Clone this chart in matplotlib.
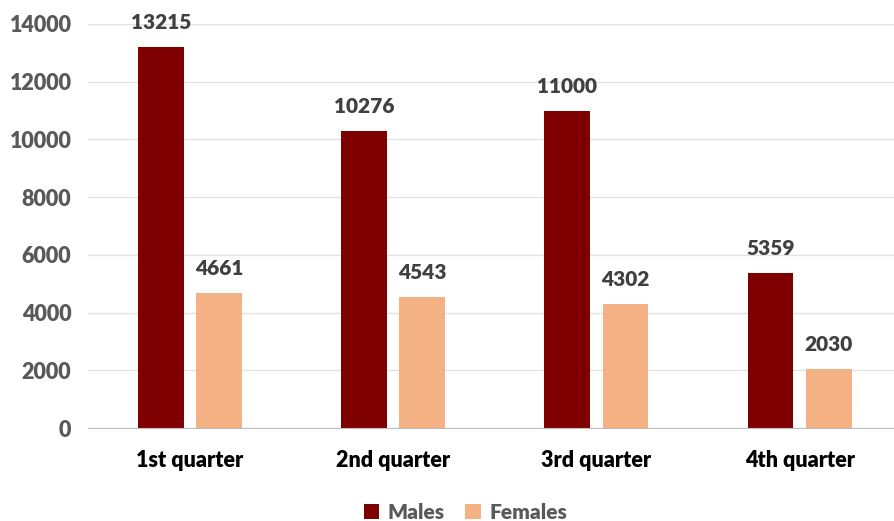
import numpy as np
import matplotlib.pyplot as plt

categories = ["1st quarter", "2nd quarter", "3rd quarter", "4th quarter"]
males = [13215, 10276, 11000, 5359]
females = [4661, 4543, 4302, 2030]

plt.rcParams['font.family'] = ['Lato', 'DejaVu Sans']
val_col = "#404040"
axis_col = "#595959"

fig = plt.figure(figsize=(8.95, 5.21), dpi=100)
ax = fig.add_axes([0.0985, 0.1785, 0.9085, 0.7755])

x = np.arange(len(categories))
w = 0.225
b1 = ax.bar(x - 0.143, males, w, color="#7F0000", label="Males", zorder=3)
b2 = ax.bar(x + 0.143, females, w, color="#F4B183", label="Females", zorder=3)

for bars in (b1, b2):
    for b in bars:
        ax.text(b.get_x() + b.get_width() / 2, b.get_height() + 520, str(int(b.get_height())),
                ha="center", va="bottom", fontsize=15, fontweight="heavy", color=val_col)

ax.set_xlim(-0.5, 3.5)
ax.set_ylim(0, 14000)
ax.set_yticks(np.arange(0, 14001, 2000))
ax.set_xticks(x)
ax.set_xticklabels(categories)
ax.grid(axis="y", color="#E3E3E3", linewidth=1, zorder=0)
ax.set_axisbelow(True)
for lab in ax.get_xticklabels():
    lab.set_fontsize(15.5)
    lab.set_fontweight("heavy")
    lab.set_color("#000000")
for lab in ax.get_yticklabels():
    lab.set_fontsize(15.5)
    lab.set_fontweight("heavy")
    lab.set_color(axis_col)
ax.tick_params(axis="both", length=0)
ax.tick_params(axis="x", pad=16)
ax.tick_params(axis="y", pad=12)
for s in ["top", "right", "left"]:
    ax.spines[s].set_visible(False)
ax.spines["bottom"].set_color("#BFBFBF")
ax.spines["bottom"].set_zorder(4)

leg = fig.legend(loc="lower center", ncol=2, frameon=False, bbox_to_anchor=(0.52, -0.038),
                 handlelength=0.75, handleheight=0.75, columnspacing=1.0, handletextpad=0.4,
                 prop={"size": 15, "weight": "heavy"})
for t in leg.get_texts():
    t.set_color(axis_col)

fig.savefig("out.png", dpi=100)
